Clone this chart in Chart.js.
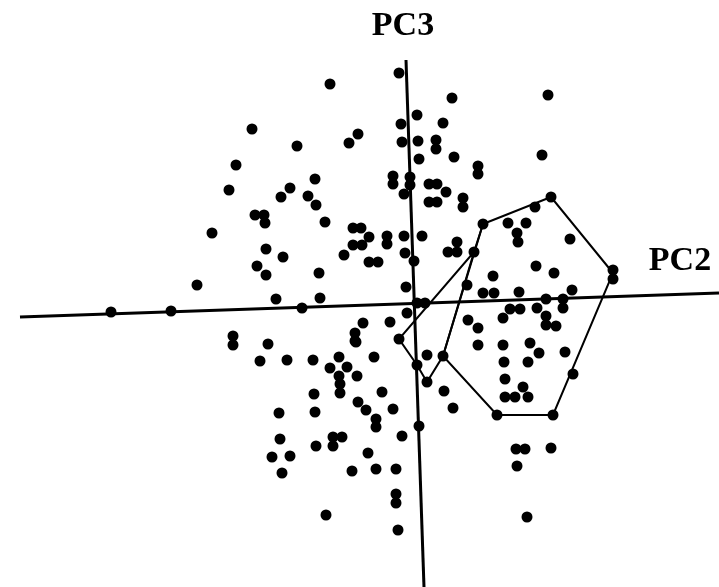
<!DOCTYPE html>
<html>
<head>
<meta charset="utf-8">
<script src="https://cdn.jsdelivr.net/npm/chart.js@4"></script>
<style>
  body { margin: 0; background: #fff; }
  canvas { display: block; }
</style>
</head>
<body>
<canvas id="myChart" width="719" height="587"></canvas>
<script>
// scores (arbitrary units, origin at the axis crossing)
const pc2 = [
  -0.84,-1.62,-1.17,-1.78,-1.85,-0.99,-1.24,-1.33,-1.06,-0.98,
  -0.15,0.38,0.03,-0.13,0.29,-0.56,-0.65,-0.12,0.04,0.22,
  0.22,0.05,0.40,0.64,0.64,-0.21,-0.21,-0.04,-0.04,-0.10,
  0.15,0.23,0.32,0.15,0.23,0.49,0.49,1.34,1.28,1.37,
  1.21,0.69,0.94,1.12,1.03,1.04,1.56,1.22,1.40,0.79,
  1.99,1.99,0.69,0.80,1.05,1.58,1.32,1.49,1.49,0.96,
  1.06,1.23,0.89,1.32,1.32,1.42,0.64,0.89,1.16,1.25,
  1.51,0.64,-0.61,-0.53,-0.45,-0.61,-0.52,-0.70,-0.27,-0.27,
  -0.10,0.08,-0.09,0.00,-0.45,-0.36,0.43,0.34,0.43,0.60,
  0.53,-0.08,0.03,0.11,-0.07,-0.51,-0.24,-0.59,-0.59,0.54,
  -0.15,-0.75,-0.40,0.13,0.29,-1.59,-1.50,-1.49,-0.89,-2.02,
  -1.48,-1.31,-1.57,-1.48,-0.95,-2.17,-1.38,-0.94,-1.12,-1.81,
  -1.81,-1.46,-1.54,-1.27,-1.01,-3.03,-2.43,-0.58,-0.84,-0.67,
  -0.75,-0.57,-0.74,-0.74,-1.00,-0.32,-0.56,-0.48,-1.35,-0.99,
  -0.38,-0.38,-1.34,-0.81,-0.72,-0.81,-0.98,-0.46,-1.42,-1.24,
  -1.32,-0.62,-0.38,0.03,0.90,1.14,0.13,0.91,1.09,0.91,
  1.01,1.14,0.30,-0.21,0.39,0.83,0.05,-0.12,1.02,1.11,
  1.03,-0.18,1.37,1.13,-0.18,-0.18,-0.16,-0.88,1.39,1.59
];
const pc3 = [
  2.19,1.74,1.57,1.38,1.13,1.24,1.15,1.06,1.07,0.98,
  2.30,2.05,1.88,1.79,1.80,1.69,1.60,1.61,1.62,1.63,
  1.54,1.44,1.46,1.37,1.29,1.27,1.19,1.26,1.18,1.09,
  1.19,1.19,1.11,1.01,1.01,1.05,0.96,2.08,1.48,1.06,
  0.96,0.79,0.80,0.80,0.70,0.61,0.64,0.37,0.30,0.27,
  0.33,0.24,0.10,0.10,0.11,0.13,0.04,0.04,-0.05,-0.06,
  -0.06,-0.05,-0.15,-0.13,-0.22,-0.23,-0.25,-0.42,-0.40,-0.50,
  -0.49,-0.42,0.75,0.75,0.66,0.58,0.58,0.48,0.67,0.59,
  0.67,0.67,0.50,0.42,0.41,0.41,0.61,0.51,0.51,0.51,
  0.18,0.16,0.00,0.00,-0.10,-0.20,-0.19,-0.30,-0.38,-0.17,
  -0.36,-0.54,-0.54,-0.52,-0.53,0.88,0.88,0.80,0.81,0.70,
  0.54,0.46,0.37,0.28,0.30,0.18,0.04,0.05,-0.05,-0.33,
  -0.42,-0.41,-0.58,-0.57,-0.57,-0.09,-0.08,-0.39,-0.65,-0.64,
  -0.73,-0.73,-0.81,-0.90,-0.91,-0.89,-0.99,-1.07,-1.10,-1.09,
  -1.16,-1.24,-1.36,-1.34,-1.34,-1.43,-1.43,-1.50,-1.54,-1.53,
  -1.70,-1.68,-1.66,-0.62,-0.59,-0.59,-0.79,-0.76,-0.84,-0.94,
  -0.94,-0.94,-0.88,-1.06,-1.05,-1.12,-1.23,-1.33,-1.46,-1.46,
  -1.63,-1.66,-1.45,-2.14,-1.91,-2.00,-2.27,-2.12,-1.12,-0.71
];

// outlines of the two groups
const hullBigX = [0.69, 1.37, 1.99, 1.39, 0.83, 0.29, 0.69];
const hullBigY = [0.79, 1.06, 0.30, -1.12, -1.12, -0.53, 0.79];
const hullSmallX = [0.69, 0.60, -0.15, 0.03, 0.13, 0.29, 0.60];
const hullSmallY = [0.79, 0.51, -0.36, -0.62, -0.79, -0.53, 0.51];

// the two component axes as drawn
const axisPC2X = [-3.94, 3.05];
const axisPC2Y = [-0.14, 0.10];
const axisPC3X = [-0.08, 0.10];
const axisPC3Y = [2.43, -2.84];

const axisLabels = ['PC3', 'PC2'];
const labelX = [-0.11, 2.66];
const labelY = [2.68, 0.33];

const zip = (xs, ys) => xs.map((x, i) => ({ x: x, y: ys[i] }));

const lineSet = (xs, ys, w) => ({
  data: zip(xs, ys),
  showLine: true,
  borderColor: '#000',
  borderWidth: w,
  pointRadius: 0,
  fill: false
});

const axisText = {
  id: 'axisText',
  afterDraw(chart) {
    const c = chart.ctx;
    const sx = chart.scales.x, sy = chart.scales.y;
    c.save();
    c.fillStyle = '#000';
    c.font = 'bold 34px "Liberation Serif", "Times New Roman", serif';
    c.textAlign = 'center';
    c.textBaseline = 'alphabetic';
    axisLabels.forEach((t, i) => {
      c.fillText(t, sx.getPixelForValue(labelX[i]), sy.getPixelForValue(labelY[i]));
    });
    c.restore();
  }
};

const ctx = document.getElementById('myChart').getContext('2d');
new Chart(ctx, {
  type: 'scatter',
  data: {
    datasets: [
      lineSet(axisPC2X, axisPC2Y, 3),
      lineSet(axisPC3X, axisPC3Y, 3),
      lineSet(hullBigX, hullBigY, 2),
      lineSet(hullSmallX, hullSmallY, 2),
      {
        data: zip(pc2, pc3),
        backgroundColor: '#000',
        borderColor: '#000',
        pointRadius: 5.5,
        borderWidth: 0
      }
    ]
  },
  options: {
    responsive: false,
    animation: false,
    layout: { padding: 0, autoPadding: false },
    plugins: { legend: { display: false }, tooltip: { enabled: false } },
    scales: {
      x: { type: 'linear', min: -4.14, max: 3.05, display: false },
      y: { type: 'linear', min: -2.84, max: 3.03, display: false }
    }
  },
  plugins: [axisText]
});
</script>
</body>
</html>
